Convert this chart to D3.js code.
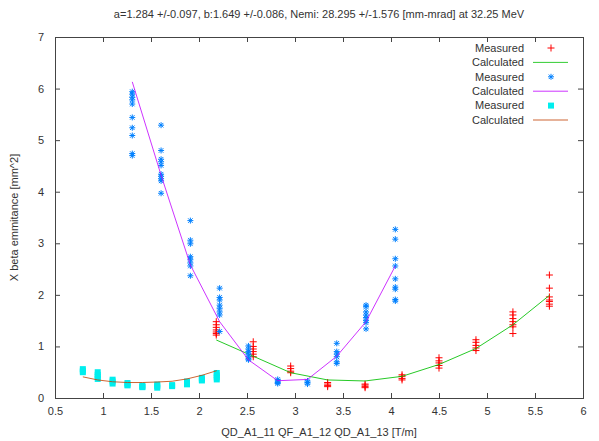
<!DOCTYPE html>
<html>
<head>
<meta charset="utf-8">
<script src="https://cdn.jsdelivr.net/npm/d3@7"></script>
<style>
  body { margin: 0; background: #fff; }
  svg { display: block; font-family: "Liberation Sans", Arial, sans-serif; }
  text { fill: #333; font-size: 11px; }
</style>
</head>
<body>
<div id="chart"></div>
<script>
// series 1: red + measured, green calculated
const redX = [2.18, 2.565, 2.955, 3.34, 3.73, 4.115, 4.5, 4.885, 5.27, 5.65];
const redMeasured = [
  [1.48, 1.42, 1.37, 1.32, 1.28, 1.25, 1.22],
  [1.09, 1.0, 0.95, 0.9, 0.85, 0.8],
  [0.62, 0.57, 0.52, 0.49],
  [0.30, 0.27, 0.24, 0.22],
  [0.27, 0.25, 0.22, 0.20],
  [0.45, 0.42, 0.38, 0.35],
  [0.78, 0.72, 0.68, 0.63, 0.58],
  [1.13, 1.08, 1.02, 0.97, 0.92],
  [1.67, 1.61, 1.54, 1.48, 1.42, 1.38, 1.25],
  [2.385, 2.13, 1.96, 1.90, 1.87, 1.82, 1.78]
];
const greenCalc = [1.125, 0.81, 0.49, 0.35, 0.33, 0.42, 0.65, 0.96, 1.42, 1.99];

// series 2: blue * measured, purple calculated
const blueX = [1.305, 1.605, 1.91, 2.215, 2.515, 2.82, 3.13, 3.435, 3.74, 4.045];
const blueMeasured = [
  [5.94, 5.89, 5.83, 5.78, 5.70, 5.44, 5.24, 5.09, 4.74, 4.70],
  [5.29, 4.80, 4.63, 4.58, 4.51, 4.34, 4.30, 4.25, 4.21, 3.97],
  [3.44, 3.06, 2.99, 2.74, 2.69, 2.62, 2.56, 2.37],
  [2.13, 1.95, 1.90, 1.80, 1.74, 1.67, 1.61, 1.29],
  [1.01, 0.95, 0.9, 0.85, 0.8, 0.76, 0.74],
  [0.36, 0.33, 0.30, 0.28],
  [0.33, 0.30, 0.27],
  [1.06, 0.90, 0.85, 0.80, 0.70, 0.67],
  [1.80, 1.77, 1.67, 1.61, 1.56, 1.50, 1.46, 1.34],
  [3.27, 3.08, 2.70, 2.56, 2.31, 2.15, 2.11, 1.91, 1.88]
];
const purpleCalc = [6.13, 4.32, 2.58, 1.48, 0.74, 0.335, 0.36, 0.81, 1.48, 2.56];

// series 3: cyan squares measured, brown calculated
const cyanX = [0.79, 0.945, 1.1, 1.255, 1.41, 1.565, 1.72, 1.875, 2.03, 2.185];
const cyanMeasured = [
  [0.56, 0.53, 0.50],
  [0.50, 0.45, 0.41, 0.37],
  [0.355, 0.32, 0.28],
  [0.29, 0.26, 0.245],
  [0.24, 0.22, 0.21],
  [0.26, 0.23, 0.20],
  [0.25, 0.23],
  [0.32, 0.29, 0.265],
  [0.39, 0.36, 0.34],
  [0.485, 0.44, 0.40, 0.36]
];
const brownCalc = [0.41, 0.35, 0.315, 0.30, 0.30, 0.31, 0.325, 0.37, 0.44, 0.53];

const xTicks = [0.5, 1, 1.5, 2, 2.5, 3, 3.5, 4, 4.5, 5, 5.5, 6];
const yTicks = [0, 1, 2, 3, 4, 5, 6, 7];
const legendLabels = ['Measured', 'Calculated', 'Measured', 'Calculated', 'Measured', 'Calculated'];
const title = 'a=1.284 +/-0.097, b:1.649 +/-0.086, Nemi:  28.295 +/-1.576 [mm-mrad] at 32.25 MeV';

const W = 599, H = 441;
const m = {left: 55, right: 16, top: 37, bottom: 43};

const svg = d3.select('#chart').append('svg').attr('width', W).attr('height', H);
const x = d3.scaleLinear().domain([0.5, 6]).range([m.left, W - m.right]);
const y = d3.scaleLinear().domain([0, 7]).range([H - m.bottom, m.top]);

const flat = (xs, groups) => groups.flatMap((g, i) => g.map(v => [xs[i], v]));
const line = d3.line().x(d => x(d[0])).y(d => y(d[1]));

// axes, gnuplot style: ticks inside and mirrored
const tickLen = 5;
const fmt = d => String(d);
svg.append('g').attr('transform', `translate(0,${y(0)})`)
  .call(d3.axisBottom(x).tickValues(xTicks).tickFormat(fmt).tickSizeInner(-tickLen).tickSizeOuter(0).tickPadding(9));
svg.append('g').attr('transform', `translate(0,${y(7)})`)
  .call(d3.axisTop(x).tickValues(xTicks).tickFormat('').tickSizeInner(-tickLen).tickSizeOuter(0));
svg.append('g').attr('transform', `translate(${x(0.5)},0)`)
  .call(d3.axisLeft(y).tickValues(yTicks).tickFormat(fmt).tickSizeInner(-tickLen).tickSizeOuter(0).tickPadding(11));
svg.append('g').attr('transform', `translate(${x(6)},0)`)
  .call(d3.axisRight(y).tickValues(yTicks).tickFormat('').tickSizeInner(-tickLen).tickSizeOuter(0));
svg.selectAll('.domain').remove();
svg.selectAll('.tick line').attr('stroke', '#444');
svg.selectAll('.tick text').style('font-size', '11px').style('fill', '#333').attr('font-family', null);

svg.append('rect')
  .attr('x', x(0.5) + 0.5).attr('y', y(7) + 0.5)
  .attr('width', x(6) - x(0.5)).attr('height', y(0) - y(7))
  .attr('fill', 'none').attr('stroke', '#444');

const plus = (g, px, py, r, color) => {
  g.append('path').attr('d', `M${px - r},${py}H${px + r}M${px},${py - r}V${py + r}`)
    .attr('stroke', color).attr('fill', 'none');
};
const star = (g, px, py, r, color) => {
  const d = r * 0.75;
  g.append('path')
    .attr('d', `M${px - r},${py}H${px + r}M${px},${py - r}V${py + r}M${px - d},${py - d}L${px + d},${py + d}M${px - d},${py + d}L${px + d},${py - d}`)
    .attr('stroke', color).attr('fill', 'none');
};
const square = (g, px, py, s, color) => {
  g.append('rect').attr('x', px - s / 2).attr('y', py - s / 2).attr('width', s).attr('height', s).attr('fill', color);
};

const plot = svg.append('g');
flat(redX, redMeasured).forEach(d => plus(plot, x(d[0]), y(d[1]), 3.5, '#ff0000'));
plot.append('path').datum(redX.map((v, i) => [v, greenCalc[i]])).attr('d', line)
  .attr('fill', 'none').attr('stroke', '#00c000').attr('stroke-opacity', 0.85);
flat(blueX, blueMeasured).forEach(d => star(plot, x(d[0]), y(d[1]), 3, '#0080ff'));
plot.append('path').datum(blueX.map((v, i) => [v, purpleCalc[i]])).attr('d', line)
  .attr('fill', 'none').attr('stroke', '#c000ff').attr('stroke-opacity', 0.8);
flat(cyanX, cyanMeasured).forEach(d => square(plot, x(d[0]), y(d[1]), 6, '#00eeee'));
plot.append('path').datum(cyanX.map((v, i) => [v, brownCalc[i]])).attr('d', line)
  .attr('fill', 'none').attr('stroke', '#c04000').attr('stroke-opacity', 0.8);

// legend
const leg = svg.append('g');
const legColors = ['#ff0000', '#00c000', '#0080ff', '#c000ff', '#00eeee', '#c04000'];
legendLabels.forEach((lab, i) => {
  const ly = 48 + i * 14.4;
  leg.append('text').attr('x', 524).attr('y', ly).attr('dy', '0.35em').attr('text-anchor', 'end').text(lab);
  if (i % 2 === 1) {
    leg.append('line').attr('x1', 533).attr('x2', 568).attr('y1', ly).attr('y2', ly)
      .attr('stroke', legColors[i]).attr('stroke-opacity', 0.8);
  } else if (i === 0) {
    plus(leg, 551, ly, 3.5, legColors[i]);
  } else if (i === 2) {
    star(leg, 551, ly, 3, legColors[i]);
  } else {
    square(leg, 551, ly, 6, legColors[i]);
  }
});

// titles
const cx = (x(0.5) + x(6)) / 2;
svg.append('text').attr('x', cx).attr('y', 18).attr('text-anchor', 'middle').text(title);
svg.append('text').attr('x', cx).attr('y', 436).attr('text-anchor', 'middle').text('QD_A1_11 QF_A1_12 QD_A1_13 [T/m]');
svg.append('text').attr('transform', `translate(14,${(y(0) + y(7)) / 2}) rotate(-90)`)
  .attr('dy', '0.35em').attr('text-anchor', 'middle').text('X beta emmitance [mm^2]');
</script>
</body>
</html>
